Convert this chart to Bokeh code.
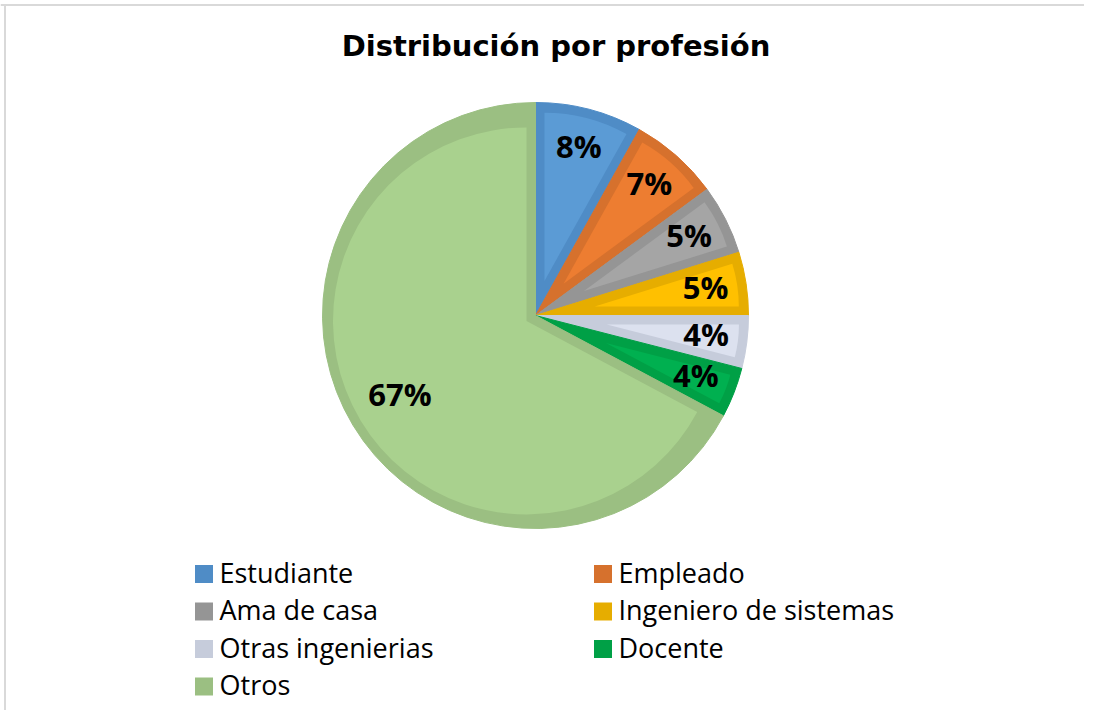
import numpy as np
from bokeh.plotting import figure
from bokeh.models import Range1d, ColumnDataSource
from bokeh.core.properties import value
from bokeh.embed import file_html
from bokeh.resources import INLINE

# ---------------- data ----------------
title_text = "Distribución por profesión"
categories = ["Estudiante", "Empleado", "Ama de casa", "Ingeniero de sistemas",
              "Otras ingenierias", "Docente", "Otros"]
shares = [8.1, 6.8, 5.3, 4.8, 4.0, 3.8, 67.2]
pct_labels = ["8%", "7%", "5%", "5%", "4%", "4%", "67%"]
fill_colors = ["#5B9BD5", "#ED7D31", "#A5A5A5", "#FFC000", "#DCE1EF", "#00B050", "#A9D18E"]
edge_colors = ["#4F8CC6", "#D6712D", "#959595", "#E6AD00", "#C6CCDB", "#00A046", "#9BBF82"]

# ---------------- geometry (pixel-like data units) ----------------
CX, CY = 535.0, -315.0
R = 213.0
D = 9.0  # inner border thickness

frac = np.array(shares) / np.sum(shares)
cum = np.concatenate([[0.0], np.cumsum(frac)])
start = np.pi / 2 - 2 * np.pi * cum[1:]
end = np.pi / 2 - 2 * np.pi * cum[:-1]
mid = (start + end) / 2
half = (end - start) / 2
shift = D / np.sin(half)

outer = ColumnDataSource(dict(x=[CX] * len(frac), y=[CY] * len(frac),
                              start=start, end=end, color=edge_colors))
inner = ColumnDataSource(dict(x=CX + shift * np.cos(mid), y=CY + shift * np.sin(mid),
                              r=R - D - shift, start=start, end=end, color=fill_colors))

label_r = np.where(frac > 0.5, R - 55, R - 41)
lab = ColumnDataSource(dict(x=CX + label_r * np.cos(mid), y=CY + label_r * np.sin(mid) + 3,
                            text=pct_labels))

p = figure(width=1084, height=710, x_range=Range1d(0, 1084), y_range=Range1d(-710, 0),
           output_backend="svg", toolbar_location=None, min_border=0)
p.axis.visible = False
p.grid.visible = False
p.outline_line_color = None
p.background_fill_color = "white"
p.border_fill_color = "white"

# chart frame (top and left visible)
p.segment(x0=[0, 4.5], y0=[-4.5, -4.5], x1=[1084, 4.5], y1=[-4.5, -710],
          line_color="#D9D9D9", line_width=2)

p.wedge(x="x", y="y", radius=R, start_angle="start", end_angle="end",
        fill_color="color", line_color="color", line_width=1, source=outer)
p.wedge(x="x", y="y", radius="r", start_angle="start", end_angle="end",
        fill_color="color", line_color=None, source=inner)

p.text(x="x", y="y", text="text", source=lab, text_align="center", text_baseline="middle",
       text_font=value("Open Sans"), text_font_style="bold", text_font_size="31px",
       text_color="black")

# title
p.text(x=[555.5], y=[-45], text=[title_text], text_align="center", text_baseline="middle",
       text_font=value("DejaVu Sans"), text_font_style="bold", text_font_size="29px",
       text_color="black")

# legend (two columns)
idx = np.arange(len(categories))
col = idx % 2
row = idx // 2
mk_x = 203.5 + 399 * col
mk_y = -(573.5 + 37.5 * row)
leg = ColumnDataSource(dict(mx=mk_x, my=mk_y, tx=mk_x + 15.5, ty=mk_y + 2,
                            text=categories, color=edge_colors))
p.rect(x="mx", y="my", width=18, height=18, fill_color="color", line_color=None, source=leg)
p.text(x="tx", y="ty", text="text", source=leg, text_align="left", text_baseline="middle",
       text_font=value("Open Sans"), text_font_size="27px", text_color="black")

open("out.html", "w").write(file_html(p, INLINE))
